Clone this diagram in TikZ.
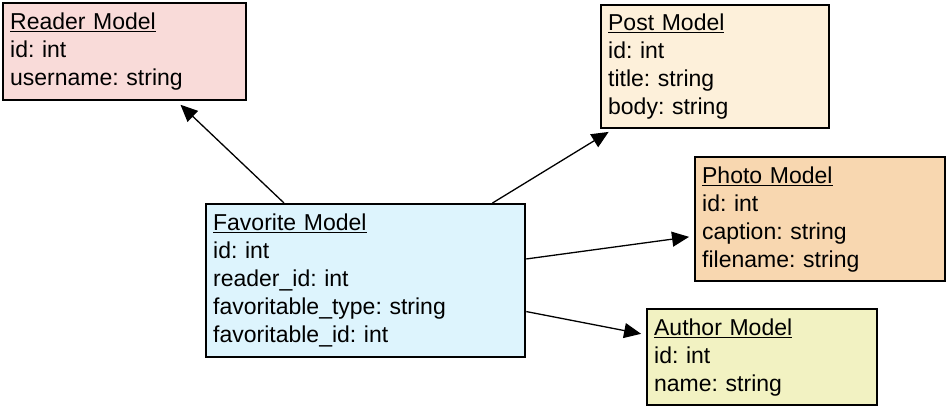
\documentclass[tikz,border=0pt]{standalone}
\usepackage{fontspec}
\setmainfont{Liberation Sans}
\usetikzlibrary{arrows.meta}
\frenchspacing

\definecolor{readerfill}{HTML}{F9DBD9}
\definecolor{postfill}{HTML}{FDF0DA}
\definecolor{photofill}{HTML}{F8D7B0}
\definecolor{favfill}{HTML}{DDF4FD}
\definecolor{authorfill}{HTML}{F2F2C2}

\begin{document}
\begin{tikzpicture}[x=1pt, y=-1pt]
             \useasboundingbox (0,0) rectangle (946,406);
             \begin{scope}[every node/.style = {rectangle, draw, line width=2.3pt, anchor=north west,
                           inner xsep=7pt, inner ysep=0pt, align=left,
                           font=\fontsize{23}{28}\selectfont}]
                \node[fill=readerfill, minimum width=243pt, minimum height=97pt, text width=229pt](reader) at (2,2)
                    {\underline{Reader Model}\\id: int\\username: string};
                \node[fill=postfill, minimum width=228pt, minimum height=123pt, text width=214pt](post) at (600,4)
                    {\underline{Post Model}\\id: int\\title: string\\body: string};
                \node[fill=photofill, minimum width=250pt, minimum height=124pt, text width=236pt](photo) at (694,156)
                    {\underline{Photo Model}\\id: int\\caption: string\\filename: string};
                \node[fill=favfill, minimum width=319pt, minimum height=153pt, text width=305pt](fav) at (205,203)
                    {\underline{Favorite Model}\\id: int\\reader\_id: int\\favoritable\_type: string\\favoritable\_id: int};
                \node[fill=authorfill, minimum width=230pt, minimum height=96pt, text width=216pt](author) at (646,308)
                    {\underline{Author Model}\\id: int\\name: string};
            \end{scope}

            \begin{scope}[every edge/.style = {-{Triangle[length=17pt, width=15pt]}, draw, line width=1.3pt, shorten >=5pt}]
                \path(fav) edge[] (reader);
                \path(fav) edge[] (post);
                \path(fav) edge[] (photo);
                \path(fav) edge[] (author);
            \end{scope}
        \end{tikzpicture}
\end{document}
